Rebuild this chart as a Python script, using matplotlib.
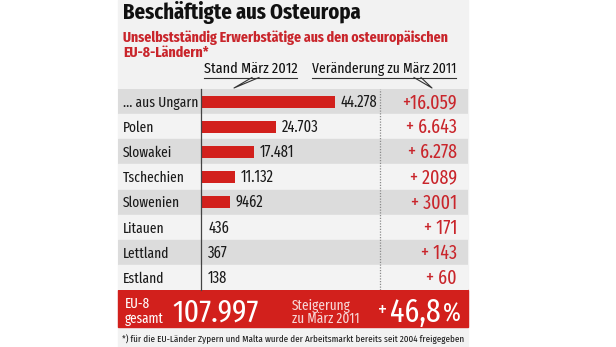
import matplotlib
matplotlib.use("Agg")
import matplotlib.pyplot as plt

# Daten
laender = ["... aus Ungarn", "Polen", "Slowakei", "Tschechien", "Slowenien",
           "Litauen", "Lettland", "Estland"]
stand_2012 = [44278, 24703, 17481, 11132, 9462, 436, 367, 138]
stand_labels = ["44.278", "24.703", "17.481", "11.132", "9462", "436", "367", "138"]
veraenderung = ["+16.059", "+ 6.643", "+ 6.278", "+ 2089", "+ 3001", "+ 171", "+ 143", "+ 60"]

titel = "Beschäftigte aus Osteuropa"
untertitel_1 = "Unselbstständig Erwerbstätige aus den osteuropäischen"
untertitel_2 = "EU-8-Ländern*"
gesamt = "107.997"
steigerung = "46,8"
fussnote = "*) für die EU-Länder Zypern und Malta wurde der Arbeitsmarkt bereits seit 2004 freigegeben"

plt.rcParams['font.family'] = ['Fira Sans Extra Condensed', 'Barlow Condensed', 'DejaVu Sans']

ROT = "#d2201c"
ROT_TEXT = "#c9252b"
W, H = 616, 347

fig = plt.figure(figsize=(W / 100, H / 100), dpi=100)
fig.patch.set_facecolor("white")
renderer = fig.canvas.get_renderer()

def breite(t, px):
    # Schriftgroesse so setzen, dass der Text ungefaehr px Pixel breit ist
    bb = t.get_window_extent(renderer)
    t.set_fontsize(t.get_fontsize() * px / bb.width)
    return t.get_fontsize()

# Layout-Achse in Pixeln (nur fuer Hintergrund, Texte, Deko)
lay = fig.add_axes([0, 0, 1, 1])
lay.set_xlim(0, W)
lay.set_ylim(H, 0)
lay.axis("off")

P_L, P_R = 118, 468          # Panelraender
T_TOP, T_BOT = 89, 290       # Tabellenbereich
lay.add_patch(plt.Rectangle((P_L, 0), P_R - P_L, H, color="#f2f2f2", zorder=0))

t = lay.text(123, 19, titel, fontsize=15, fontweight="bold", color="#111111",
             va="baseline", ha="left")
breite(t, 238)
t = lay.text(123, 42, untertitel_1, fontsize=10, fontweight="bold", color=ROT_TEXT,
             va="baseline", ha="left")
gr = breite(t, 326)
lay.text(123, 57, untertitel_2, fontsize=gr, fontweight="bold", color=ROT_TEXT,
         va="baseline", ha="left")

# Spaltenkoepfe mit Hinweislinien
t = lay.text(204, 73, "Stand März 2012", fontsize=10, color="#111111", ha="left", va="baseline")
breite(t, 94)
t = lay.text(312, 73, "Veränderung zu März 2011", fontsize=10, color="#111111", ha="left", va="baseline")
breite(t, 145)
lay.plot([204, 297], [77.5, 77.5], color="#333333", lw=0.8)
lay.plot([252, 234, 259], [77.5, 88, 77.5], color="#333333", lw=0.8)
lay.plot([312, 456], [77.5, 77.5], color="#333333", lw=0.8)
lay.plot([414, 432, 421], [77.5, 88, 77.5], color="#333333", lw=0.8)

# Tabellen-Hintergrund
tab = fig.add_axes([P_L / W, 1 - T_BOT / H, (P_R - P_L) / W, (T_BOT - T_TOP) / H])
tab.set_xlim(P_L, P_R)
tab.set_ylim(len(laender) - 0.5, -0.5)
tab.axis("off")
namen_txt, aend_txt = [], []
for i, land in enumerate(laender):
    farbe = "#dcdcdc" if i % 2 == 0 else "#f3f3f3"
    tab.axhspan(i - 0.5, i + 0.5, color=farbe, zorder=0)
    namen_txt.append(tab.text(123, i + 0.05, land, fontsize=11, color="#1a1a1a", va="center", ha="left"))
    aend_txt.append(tab.text(457, i + 0.03, veraenderung[i], fontsize=16, color=ROT_TEXT,
                             va="center", ha="right"))
gr = breite(namen_txt[0], 75)
for t in namen_txt:
    t.set_fontsize(gr)
gr = breite(aend_txt[0], 55)
for t in aend_txt:
    t.set_fontsize(gr)
tab.axvline(380, color="#8a8a8a", lw=0.9, ls=(0, (1, 1.2)))

# Balken
B_L, B_R = 201, 380
bar = fig.add_axes([B_L / W, 1 - T_BOT / H, (B_R - B_L) / W, (T_BOT - T_TOP) / H])
bar.patch.set_alpha(0)
bar.set_xlim(0, 44278 * (B_R - B_L) / 134)
bar.set_ylim(len(laender) - 0.5, -0.5)
bar.barh(range(len(laender)), stand_2012, height=0.48, color=ROT, zorder=2)
wert_txt = []
for i, v in enumerate(stand_2012):
    wert_txt.append(bar.annotate(stand_labels[i], (v, i + 0.03), xytext=(4.3, 0), textcoords="offset points",
                                 fontsize=11, color="#1a1a1a", va="center", ha="left"))
gr = breite(wert_txt[0], 37)
for t in wert_txt:
    t.set_fontsize(gr)
for s in ["top", "right", "bottom"]:
    bar.spines[s].set_visible(False)
bar.spines["left"].set_color("#444444")
bar.spines["left"].set_linewidth(0.9)
bar.set_xticks([])
bar.set_yticks([])

# Summenzeile
lay.add_patch(plt.Rectangle((P_L, 290), P_R - P_L, 37, color=ROT, zorder=1))
t = lay.text(125, 308, "EU-8", fontsize=11, color="white", va="baseline", ha="left", zorder=2)
t2 = lay.text(125, 323, "gesamt", fontsize=11, color="white", va="baseline", ha="left", zorder=2)
gr = breite(t2, 39)
t.set_fontsize(gr)
t = lay.text(172, 322, gesamt, fontsize=26, color="white", va="baseline", ha="left", zorder=2)
breite(t, 86)
t = lay.text(292, 310, "Steigerung", fontsize=11, color="#f7d6d6", va="baseline", ha="left", zorder=2)
t2 = lay.text(292, 323, "zu März 2011", fontsize=11, color="#f7d6d6", va="baseline", ha="left", zorder=2)
gr = breite(t2, 68)
t.set_fontsize(gr)
t = lay.text(378, 317, "+", fontsize=15, color="white", va="baseline", ha="left", zorder=2)
breite(t, 9)
t = lay.text(390, 322, steigerung, fontsize=26, color="white", va="baseline", ha="left", zorder=2)
breite(t, 51)
t = lay.text(443, 322, "%", fontsize=15, color="white", va="baseline", ha="left", zorder=2)
breite(t, 18)

t = lay.text(122, 342, fussnote, fontsize=7.5, color="#1a1a1a", va="baseline", ha="left")
breite(t, 341)

fig.savefig("out.png", dpi=100)
